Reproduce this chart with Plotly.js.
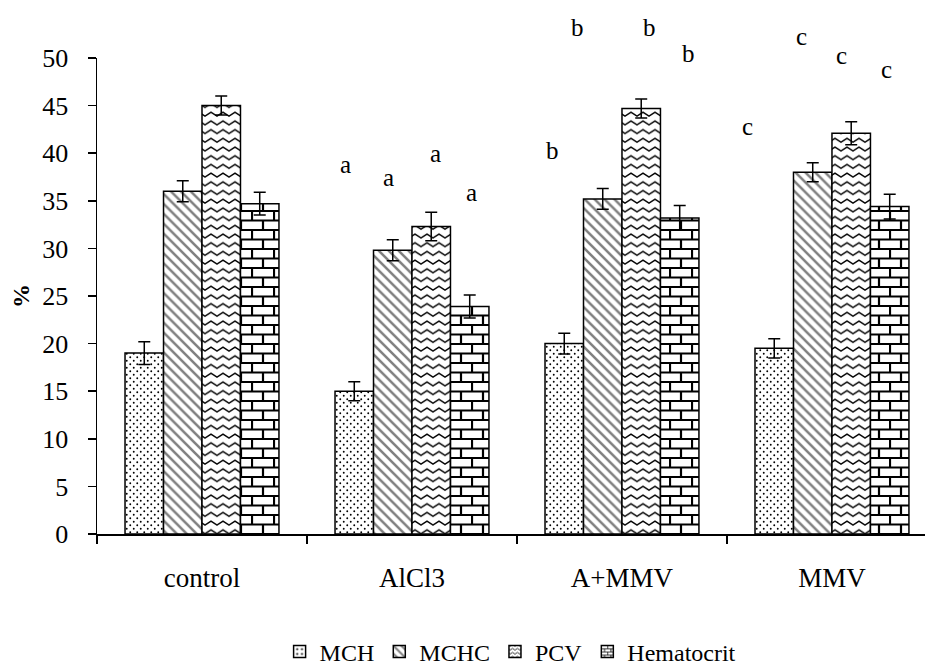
<!DOCTYPE html>
<html>
<head>
<meta charset="utf-8">
<script src="https://cdn.plot.ly/plotly-3.0.1.min.js"></script>
<style>
  html, body { margin: 0; padding: 0; background: #ffffff; }
  #chart { width: 925px; height: 668px; }
</style>
</head>
<body>
<div id="chart"></div>
<script>
// Groups on the x axis
const groups = ['control', 'AlCl3', 'A+MMV', 'MMV'];

// Mean values (%) per parameter
const mch  = [19.0, 15.0, 20.0, 19.5];
const mchc = [36.0, 29.8, 35.2, 38.0];
const pcv  = [45.0, 32.3, 44.7, 42.1];
const hematocrit = [34.7, 23.9, 33.2, 34.4];

// Error bar half-lengths
const mchErr  = [1.2, 1.0, 1.1, 1.0];
const mchcErr = [1.1, 1.1, 1.1, 1.0];
const pcvErr  = [1.0, 1.5, 1.0, 1.2];
const hematocritErr = [1.2, 1.2, 1.3, 1.3];

// Significance letters, one row per group (MCH, MCHC, PCV, Hematocrit)
const sigLetters = [
  [],
  ['a', 'a', 'a', 'a'],
  ['b', 'b', 'b', 'b'],
  ['c', 'c', 'c', 'c']
];
// Height (in % units) at which each letter sits
const sigHeights = [
  [],
  [38.8, 37.5, 40.0, 35.9],
  [40.3, 53.2, 53.2, 50.5],
  [42.8, 52.3, 50.3, 48.8]
];

const seriesNames = ['MCH', 'MCHC', 'PCV', 'Hematocrit'];
const seriesValues = [mch, mchc, pcv, hematocrit];
const seriesErrors = [mchErr, mchcErr, pcvErr, hematocritErr];

// Horizontal offsets of letters from the group centre (category units)
const letterOffsets = [
  [],
  [-0.319, -0.114, 0.114, 0.281],
  [-0.333, -0.210, 0.129, 0.319],
  [-0.400, -0.143, 0.043, 0.262]
];

const FONT = '"Liberation Serif", "Times New Roman", Times, serif';
const Y_MAX = 50;

const patterns = [
  { shape: '.',  size: 7,  solidity: 0.06 },
  { shape: '\\', size: 7,  solidity: 0.36 },
  { shape: '-',  size: 9,  solidity: 0.2 },
  { shape: '+',  size: 10, solidity: 0.2 }
];

const traces = seriesNames.map((name, i) => ({
  type: 'bar',
  name: name,
  x: groups,
  y: seriesValues[i],
  marker: {
    color: 'white',
    line: { color: 'black', width: 1.5 },
    pattern: Object.assign({ fgcolor: 'black', bgcolor: 'white', fillmode: 'overlay' }, patterns[i])
  },
  error_y: {
    type: 'data',
    array: seriesErrors[i],
    visible: true,
    color: 'black',
    thickness: 1.5,
    width: 6
  }
}));

const annotations = [];
sigLetters.forEach((row, g) => {
  row.forEach((txt, k) => {
    annotations.push({
      text: txt,
      x: g + letterOffsets[g][k],
      xref: 'x',
      y: sigHeights[g][k] / Y_MAX,
      yref: 'paper',
      showarrow: false,
      xanchor: 'center',
      yanchor: 'middle',
      font: { family: FONT, size: 25, color: 'black' }
    });
  });
});

const layout = {
  width: 925,
  height: 668,
  margin: { l: 97, r: 0, t: 58, b: 134 },
  paper_bgcolor: 'white',
  plot_bgcolor: 'white',
  font: { family: FONT, color: 'black', size: 25 },
  barmode: 'group',
  bargap: 0.267,
  bargroupgap: 0,
  showlegend: true,
  legend: {
    orientation: 'h',
    xref: 'container', yref: 'container',
    x: 0.552, xanchor: 'center',
    y: 0.024, yanchor: 'middle',
    font: { family: FONT, size: 24, color: 'black' },
    itemwidth: 30,
    tracegroupgap: 0
  },
  xaxis: {
    type: 'category',
    range: [-0.5, 3.443],
    automargin: false,
    showline: true,
    linecolor: 'black',
    linewidth: 1.5,
    ticks: 'outside',
    tickson: 'boundaries',
    ticklen: 8,
    tickwidth: 1.5,
    tickcolor: 'black',
    ticklabelstandoff: 19,
    tickfont: { family: FONT, size: 27, color: 'black' },
    showgrid: false,
    zeroline: false,
    fixedrange: true
  },
  yaxis: {
    range: [0, Y_MAX],
    automargin: false,
    tick0: 0,
    dtick: 5,
    showline: true,
    linecolor: 'black',
    linewidth: 1.5,
    ticks: 'outside',
    ticklen: 8,
    tickwidth: 1.5,
    tickcolor: 'black',
    ticklabelstandoff: 14,
    tickfont: { family: FONT, size: 26, color: 'black' },
    showgrid: false,
    zeroline: false,
    fixedrange: true,
    title: { text: '<b>%</b>', font: { family: FONT, size: 24, color: 'black' }, standoff: 6 }
  },
  annotations: annotations
};

// Tile contents for the dotted, wave and brick fills
const dotTile = {
  w: 7, h: 7,
  svg: '<rect width="7" height="7" fill="white"/>' +
       '<circle cx="1.75" cy="1.75" r="0.95" fill="black"/>' +
       '<circle cx="5.25" cy="5.25" r="0.95" fill="black"/>'
};
const zigzagTile = {
  w: 12, h: 8.7,
  svg: '<rect width="12" height="8.7" fill="white"/>' +
       '<path d="M-1,6.6 L6,2 L13,6.6" stroke="black" stroke-width="1.5" fill="none"/>'
};
const brickTile = {
  w: 22, h: 19,
  svg: '<rect width="22" height="19" fill="white"/>' +
       '<path d="M0,1H22 M0,10.5H22 M1,1V10.5 M12,10.5V19" stroke="black" stroke-width="2.2" fill="none"/>'
};
const dotSmall = {
  w: 6, h: 6,
  svg: '<rect width="6" height="6" fill="white"/>' +
       '<circle cx="3" cy="3" r="1.3" fill="black"/>'
};
const zigzagSmall = {
  w: 6, h: 5,
  svg: '<rect width="6" height="5" fill="white"/>' +
       '<path d="M-1,4 L3,1 L7,4" stroke="black" stroke-width="1" fill="none"/>'
};
const brickSmall = {
  w: 8, h: 8,
  svg: '<rect width="8" height="8" fill="white"/>' +
       '<path d="M0,0.5H8 M0,4.5H8 M0.5,0.5V4.5 M4.5,4.5V8" stroke="black" stroke-width="1" fill="none"/>'
};

function patternIdOf(el) {
  const s = el.style.fill || el.getAttribute('style') || '';
  const m = s.match(/#([^'")\s;]+)/);
  return m ? m[1] : null;
}

function retile(elements, tile, done) {
  elements.forEach(el => {
    const id = patternIdOf(el);
    if (!id || done.has(id)) return;
    const pat = document.getElementById(id);
    if (!pat) return;
    done.add(id);
    pat.setAttribute('width', tile.w);
    pat.setAttribute('height', tile.h);
    pat.innerHTML = tile.svg;
  });
}

const gd = document.getElementById('chart');
Plotly.newPlot(gd, traces, layout, { displayModeBar: false, staticPlot: true }).then(() => {
  const done = new Set();
  const barTraces = gd.querySelectorAll('.barlayer .trace');
  const custom = { 0: [dotTile, dotSmall], 2: [zigzagTile, zigzagSmall], 3: [brickTile, brickSmall] };
  Object.keys(custom).forEach(k => {
    const i = +k;
    if (barTraces[i]) retile(Array.from(barTraces[i].querySelectorAll('path')), custom[k][0], done);
  });
  const legendItems = gd.querySelectorAll('.legend .traces');
  Object.keys(custom).forEach(k => {
    const i = +k;
    if (legendItems[i]) retile(Array.from(legendItems[i].querySelectorAll('.legendpoints path')), custom[k][1], done);
  });
});
</script>
</body>
</html>
